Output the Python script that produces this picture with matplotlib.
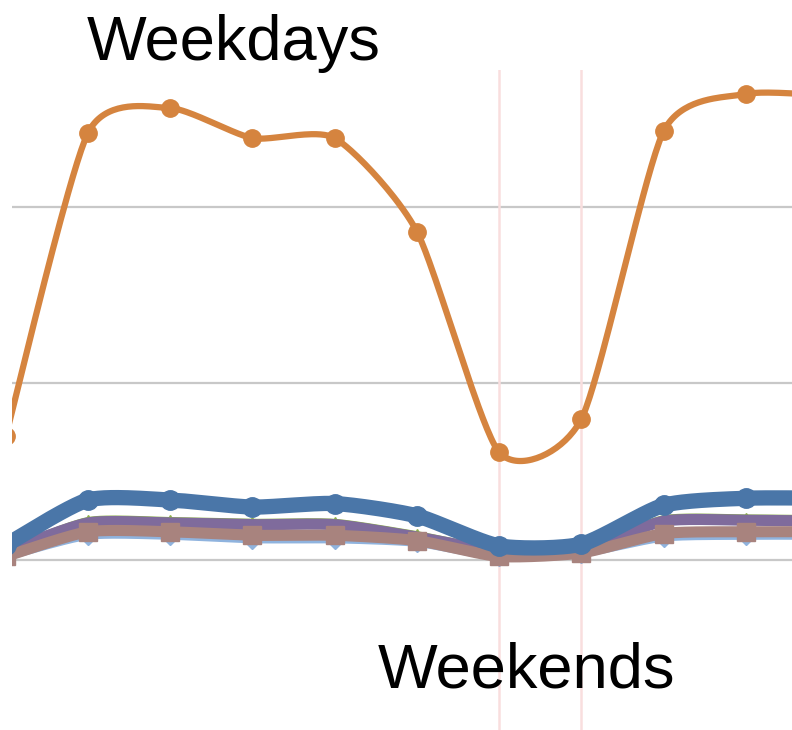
import numpy as np
import matplotlib
matplotlib.use("Agg")
import matplotlib.pyplot as plt

# Data (index 0 = Sunday, 6-7 = weekend), values in chart units
days = list(range(11))
orange = [7.0, 24.2, 25.6, 23.9, 23.9, 18.6, 6.1, 8.0, 24.3, 26.4, 26.3]
blue = [0.85, 3.4, 3.4, 3.0, 3.2, 2.5, 0.8, 0.9, 3.1, 3.5, 3.5]
lightblue = [0.1, 1.3, 1.3, 1.1, 1.1, 0.9, 0.1, 0.3, 1.2, 1.3, 1.3]
green = [0.5, 2.2, 2.2, 2.1, 2.1, 1.4, 0.55, 0.65, 2.3, 2.35, 2.3]
purple = [0.5, 2.1, 2.1, 2.0, 2.0, 1.3, 0.5, 0.6, 2.2, 2.25, 2.2]
brown = [0.2, 1.6, 1.6, 1.4, 1.4, 1.1, 0.2, 0.4, 1.5, 1.6, 1.6]
weekend_marks = [6, 7]
grid_vals = [0, 10, 20]
labels = ["Weekdays", "Weekends"]


def smooth(x, y, n=40, k=9.0):
    x = np.asarray(x, float)
    y = np.asarray(y, float)
    px = np.concatenate([[x[0]], x, [x[-1]]])
    py = np.concatenate([[y[0]], y, [y[-1]]])
    xs, ys = [], []
    t = np.linspace(0, 1, n)
    for i in range(1, len(px) - 2):
        p0 = np.array([px[i - 1], py[i - 1]])
        p1 = np.array([px[i], py[i]])
        p2 = np.array([px[i + 1], py[i + 1]])
        p3 = np.array([px[i + 2], py[i + 2]])
        c1 = p1 + (p2 - p0) / k
        c2 = p2 - (p3 - p1) / k
        b = ((1 - t) ** 3)[:, None] * p1 + (3 * (1 - t) ** 2 * t)[:, None] * c1 \
            + (3 * (1 - t) * t ** 2)[:, None] * c2 + (t ** 3)[:, None] * p2
        xs.append(b[:, 0])
        ys.append(b[:, 1])
    return np.concatenate(xs), np.concatenate(ys)


fig = plt.figure(figsize=(7.92, 7.30), dpi=100)
ax = fig.add_axes([12 / 792, 0, 780 / 792, 660 / 730])
ax.set_xlim(0.076, 9.56)
ax.set_ylim(-9.63, 27.76)
ax.axis("off")

for g in grid_vals:
    ax.axhline(g, color="#c8c8c8", lw=1.6, zorder=1)
for v in weekend_marks:
    ax.axvline(v, color="#f9dede", lw=1.8, zorder=1)

series = [
    (lightblue, "#8fb3de", 4, "D", 8, 2),
    (green, "#8db04a", 6, "^", 9, 3),
    (purple, "#7f6b9c", 8, "o", 6, 4),
    (brown, "#a8837e", 8, "s", 12.5, 5),
    (blue, "#4a76a8", 11, "o", 14, 6),
    (orange, "#d5843f", 4.5, "o", 12.5, 7),
]
for vals, col, lw, mk, ms, z in series:
    sx, sy = smooth(days, vals)
    ax.plot(sx, sy, color=col, lw=lw, solid_capstyle="round", zorder=z)
    ax.plot(days, vals, ls="none", marker=mk, ms=ms, color=col, mec=col, zorder=z)

fig.text(87 / 792, 1 - 60 / 730, labels[0], fontsize=45.5, family="Liberation Sans",
         ha="left", va="baseline")
fig.text(378 / 792, 1 - 688 / 730, labels[1], fontsize=45.5, family="Liberation Sans",
         ha="left", va="baseline")

fig.savefig("out.png", dpi=100)
